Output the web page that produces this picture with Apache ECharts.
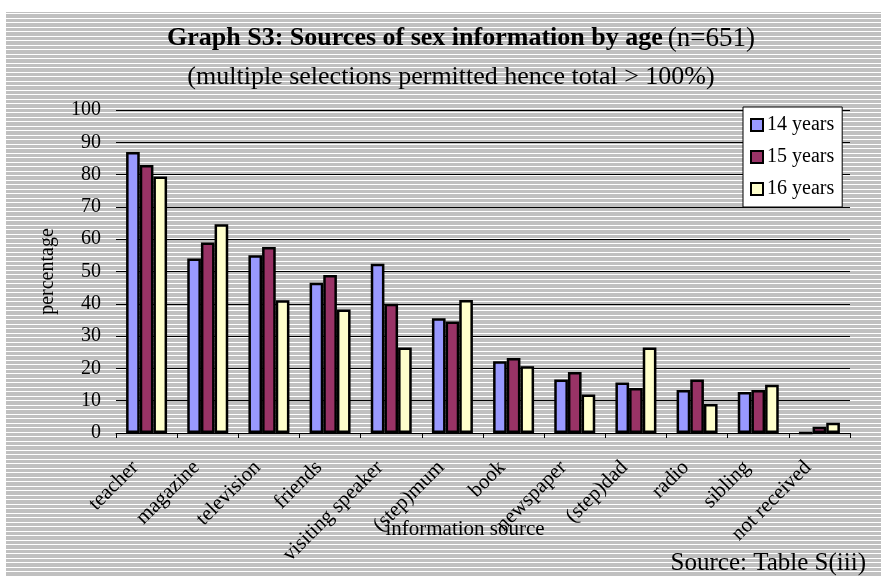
<!DOCTYPE html>
<html>
<head>
<meta charset="utf-8">
<title>Graph S3: Sources of sex information by age</title>
<script src="https://cdn.jsdelivr.net/npm/echarts@6/dist/echarts.min.js"></script>
<style>
  html, body { margin: 0; padding: 0; background: #fff; }
  #chart { width: 881px; height: 577px; }
</style>
</head>
<body>
<div id="chart"></div>
<script>
// Information sources (x-axis categories)
const sources = ['teacher', 'magazine', 'television', 'friends', 'visiting speaker',
  '(step)mum', 'book', 'newspaper', '(step)dad', 'radio', 'sibling', 'not received'];

// Percentage of respondents citing each source, by age group
const age14 = [87, 54, 55, 46.5, 52.4, 35.5, 22.2, 16.6, 15.6, 13.3, 12.7, 0];
const age15 = [83, 59, 57.6, 48.9, 40, 34.5, 23.2, 18.9, 13.9, 16.6, 13.3, 1.9];
const age16 = [79.4, 64.6, 41.1, 38.2, 26.5, 41.2, 20.7, 11.9, 26.5, 9, 14.9, 3.2];

const seriesNames = ['14 years', '15 years', '16 years'];
const seriesColors = ['#9999ff', '#993366', '#ffffcc'];

const FONT = '"Liberation Serif", "Times New Roman", serif';

// Striped grey fill used for the chart background
function stripePattern() {
  const c = document.createElement('canvas');
  c.width = 8; c.height = 9;
  const g = c.getContext('2d');
  g.fillStyle = '#c0c0c0';
  g.fillRect(0, 0, 8, 9);
  g.fillStyle = '#ffffff';
  g.fillRect(0, 0, 8, 1);
  g.fillRect(0, 4, 8, 1);
  return c;
}

const chart = echarts.init(document.getElementById('chart'), null, { renderer: 'canvas' });

const series = [age14, age15, age16].map((vals, i) => ({
  name: seriesNames[i],
  type: 'bar',
  data: vals,
  barGap: '0%',
  barCategoryGap: '33%',
  itemStyle: { color: seriesColors[i], borderColor: '#000', borderWidth: 2.5 }
}));

chart.setOption({
  animation: false,
  backgroundColor: '#fff',
  graphic: [
    {
      type: 'rect', z: -10, silent: true,
      shape: { x: 6, y: 12, width: 881 - 6, height: 577 - 12 },
      style: { fill: { image: stripePattern(), repeat: 'repeat' } }
    },
    {
      type: 'text', right: 15, top: 551,
      style: { text: 'Source: Table S(iii)', font: '25px ' + FONT, fill: '#000' }
    }
  ],
  title: [
    {
      left: 461, top: 25, textAlign: 'center', padding: 0,
      text: '{b|Graph S3: Sources of sex information by age} {n|(n=651)}',
      textStyle: {
        rich: {
          b: { fontFamily: FONT, fontSize: 26, fontWeight: 'bold', color: '#000' },
          n: { fontFamily: FONT, fontSize: 27, fontWeight: 'normal', color: '#000' }
        }
      }
    },
    {
      left: 451, top: 64, textAlign: 'center', padding: 0,
      text: '(multiple selections permitted hence total > 100%)',
      textStyle: { fontFamily: FONT, fontSize: 26, fontWeight: 'normal', color: '#000' }
    }
  ],
  legend: {
    orient: 'vertical',
    left: 743, top: 107,
    padding: [8, 8, 8, 7],
    itemGap: 12,
    itemWidth: 12, itemHeight: 12,
    icon: 'rect',
    backgroundColor: '#fff',
    borderColor: '#000', borderWidth: 1,
    textStyle: { fontFamily: FONT, fontSize: 20, color: '#000', padding: [0, 0, 0, -1] },
    data: seriesNames
  },
  grid: { left: 116, right: 31, top: 110, bottom: 144, containLabel: false },
  xAxis: {
    type: 'category',
    data: sources,
    name: 'information source',
    nameLocation: 'middle',
    nameGap: 86,
    nameMoveOverlap: false,
    nameTextStyle: { fontFamily: FONT, fontSize: 21, color: '#000', padding: [0, 36, 0, 0] },
    axisLine: { show: true, lineStyle: { color: '#000', width: 1 } },
    axisTick: { show: true, interval: 0, length: 5, lineStyle: { color: '#000' } },
    axisLabel: {
      interval: 0, rotate: 45, margin: 20, padding: [0, 16, 0, 0],
      fontFamily: FONT, fontSize: 21, color: '#000'
    }
  },
  yAxis: {
    type: 'value',
    min: 0, max: 100, interval: 10,
    name: 'percentage',
    nameLocation: 'middle',
    nameRotate: 90,
    nameGap: 58,
    nameMoveOverlap: false,
    nameTextStyle: { fontFamily: FONT, fontSize: 20, color: '#000' },
    axisLine: { show: false },
    axisTick: { show: false },
    axisLabel: { margin: 15, fontFamily: FONT, fontSize: 20, color: '#000' },
    splitLine: { show: true, lineStyle: { color: '#000', width: 1 } }
  },
  series: series
});
</script>
</body>
</html>
